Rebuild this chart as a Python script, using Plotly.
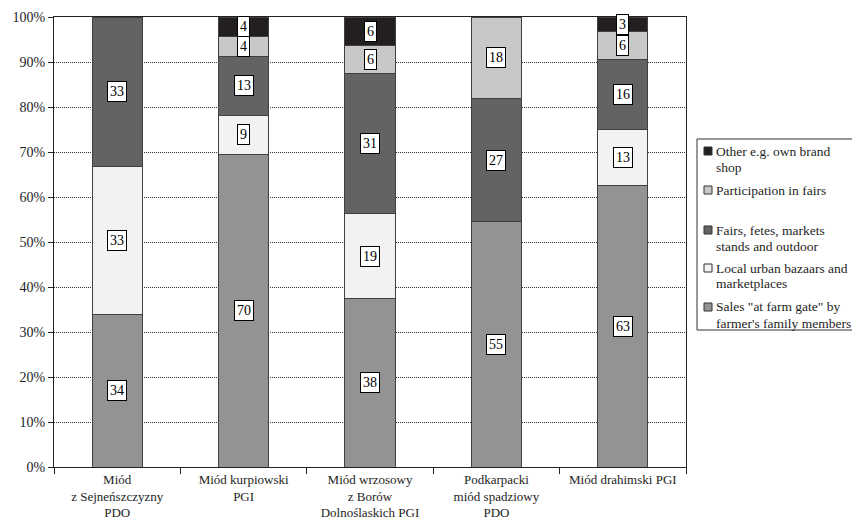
import plotly.graph_objects as go

categories = ["Miód<br>z Sejneńszczyzny<br>PDO", "Miód kurpiowski<br>PGI",
              "Miód wrzosowy<br>z Borów<br>Dolnoślaskich PGI",
              "Podkarpacki<br>miód spadziowy<br>PDO", "Miód drahimski PGI"]

series_names = ['Sales "at farm gate" by<br>farmer\'s family members',
                "Local urban bazaars and<br>marketplaces",
                "Fairs, fetes, markets<br>stands and outdoor",
                "Participation in fairs",
                "Other e.g. own brand<br>shop"]

sales = [33.9, 69.5, 37.5, 54.5, 62.5]
local = [32.8, 8.7, 18.75, 0, 12.5]
fetes = [33.3, 13.1, 31.25, 27.3, 15.6]
participation = [0, 4.3, 6.25, 18.2, 6.2]
other = [0, 4.4, 6.25, 0, 3.2]

series_values = [sales, local, fetes, participation, other]
colors = ["#939393", "#f2f2f2", "#636363", "#c8c8c8", "#231f20"]

FONT = "Liberation Serif"
TXT = "#1e1e1e"

# the page body adds an 8px offset; figure pixels = page pixels - OFF
OFF = 8
W, H = 860 - OFF, 523 - OFF
PL, PR, PT, PB = 54 - OFF, 686 - OFF, 17 - OFF, 467 - OFF   # plot area (figure px)


def px_x(p):
    """page pixel x -> paper fraction"""
    return (p - OFF - PL) / (PR - PL)


def px_y(p):
    """page pixel y -> paper fraction"""
    return (PB - (p - OFF)) / (PB - PT)


fig = go.Figure()
for name, vals, col in zip(series_names, series_values, colors):
    fig.add_trace(go.Bar(x=categories, y=vals, name=name.replace("<br>", " "),
                         showlegend=False,
                         marker=dict(color=col, line=dict(color="#404040", width=1))))

# value labels in white boxes
cum = [0.0] * len(categories)
for vals in series_values:
    for i, v in enumerate(vals):
        if v > 0:
            fig.add_annotation(x=categories[i], y=cum[i] + v / 2,
                               text=str(int(v + 0.5)), showarrow=False, bgcolor="white",
                               bordercolor="black", borderwidth=1, borderpad=2,
                               font=dict(family=FONT, size=14, color="black"))
        cum[i] += v

# legend box, items top to bottom
fig.add_shape(type="rect", xref="paper", yref="paper",
              x0=px_x(697), x1=px_x(875), y0=px_y(330), y1=px_y(139),
              line=dict(color="#333", width=1), fillcolor="white", layer="above")
first_line_y = [151, 190, 230, 268, 307]
for k, idx in enumerate(range(len(series_names) - 1, -1, -1)):
    yc = first_line_y[k]
    fig.add_shape(type="rect", xref="paper", yref="paper",
                  x0=px_x(704), x1=px_x(712), y0=px_y(yc + 4), y1=px_y(yc - 4),
                  line=dict(color="#333", width=1), fillcolor=colors[idx], layer="above")
    for j, line in enumerate(series_names[idx].split("<br>")):
        fig.add_annotation(xref="paper", yref="paper", x=px_x(714), y=px_y(yc + j * 16),
                           xanchor="left", yanchor="middle", showarrow=False,
                           text=line, font=dict(family=FONT, size=13.5, color=TXT))

fig.update_layout(
    barmode="stack", bargap=0.604,
    width=W, height=H,
    margin=dict(l=PL, r=W - PR, t=PT, b=H - PB),
    plot_bgcolor="white", paper_bgcolor="white",
    font=dict(family=FONT, size=14, color=TXT),
    showlegend=False,
)
fig.update_yaxes(range=[0, 100], dtick=10, ticksuffix="%", showgrid=True,
                 gridcolor="#333", griddash="1px,1px", gridwidth=1,
                 showline=True, linecolor="#222", linewidth=1, mirror=True,
                 ticks="outside", ticklen=5, tickcolor="#222", zeroline=False,
                 tickfont=dict(family=FONT, size=14, color=TXT), automargin=False)
fig.update_xaxes(showline=True, linecolor="#222", linewidth=1, mirror=True,
                 ticks="outside", tickson="boundaries", ticklen=6, tickcolor="#222",
                 tickangle=0, tickfont=dict(family=FONT, size=13, color=TXT),
                 automargin=False)

fig.write_html("out.html")
